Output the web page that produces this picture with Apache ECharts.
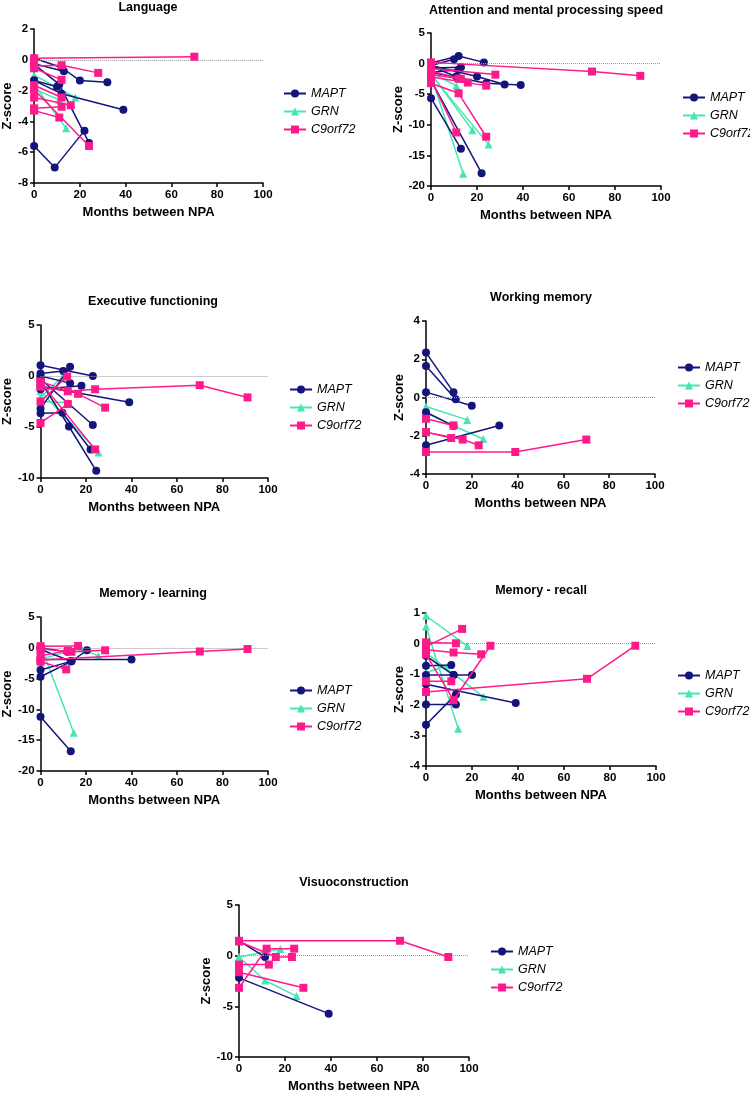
<!DOCTYPE html>
<html><head><meta charset="utf-8">
<script src="https://cdn.jsdelivr.net/npm/echarts@6/dist/echarts.min.js"></script>
<style>html,body{margin:0;padding:0;background:#fff}#c{width:750px;height:1094px}</style>
</head><body><div id="c"></div>
<script>
// ---------- data (each inner array = one participant's trajectory [months, z]) ----------
const genes = ['MAPT', 'GRN', 'C9orf72'];
const panelTitles = ['Language', 'Attention and mental processing speed', 'Executive functioning', 'Working memory', 'Memory - learning', 'Memory - recall', 'Visuoconstruction'];
const xTicks = { min: 0, max: 100, interval: 20 };
const yRanges = [[-8, 2, 2], [-20, 5, 5], [-10, 5, 5], [-4, 4, 2], [-20, 5, 5], [-4, 1, 1], [-10, 5, 5]];

const langMAPT = [[[0,-5.6],[9,-7.0],[22,-4.6]], [[0,0.1],[12,-0.5],[20,-1.35],[32,-1.45]], [[0,-0.25],[13,-0.75]], [[0,-0.3],[11,-1.6],[24,-5.4]], [[0,-1.35],[10,-1.75]], [[0,-1.35],[12,-2.2],[39,-3.25]]];
const langGRN = [[[0,-1.0],[18,-2.45]], [[0,-1.6],[14,-4.45]], [[0,-1.9],[11,-2.6]]];
const langC9 = [[[0,0.1],[70,0.2]], [[0,-0.4],[12,-0.35],[28,-0.85]], [[0,-0.55],[12,-1.3]], [[0,-1.95],[24,-5.6]], [[0,-1.65],[12,-2.45]], [[0,-2.45],[16,-2.95]], [[0,-3.15],[12,-3.05]], [[0,-3.3],[11,-3.75]]];

const attMAPT = [[[0,0.1],[12,1.25],[23,0.2]], [[0,-0.3],[10,0.7]], [[0,-0.7],[13,-0.6]], [[0,-1.4],[12,-1.0]], [[0,-0.5],[11,-2.1]], [[0,-0.3],[20,-2.1],[32,-3.4]], [[0,-1.4],[24,-3.2],[39,-3.5]], [[0,-5.65],[13,-13.9]], [[0,-2.75],[22,-17.9]]];
const attGRN = [[[0,-1.5],[11,-3.6]], [[0,-1.6],[18,-10.9]], [[0,-2.0],[14,-18]], [[0,-1.8],[25,-13.2]]];
const attC9 = [[[0,0.2],[70,-1.3],[91,-2.0]], [[0,-0.8],[28,-1.8]], [[0,-1.8],[12,-2.45],[16,-3.1]], [[0,-2.2],[24,-3.6]], [[0,-3.2],[12,-4.85],[24,-11.95]], [[0,-2.6],[11,-11.25]], [[0,-1.2],[13,-2.5]]];

const execMAPT = [[[0,1.05],[23,0]], [[0,-3.2],[13,0.9]], [[0,0.25],[10,0.5]], [[0,0],[13,-0.7]], [[0,-1.3],[18,-0.95]], [[0,-1.0],[39,-2.57]], [[0,-3.65],[9.6,-3.6],[22,-7.2]], [[0,-0.5],[12.5,-4.95],[24.5,-9.3]], [[0,-0.3],[23,-4.8]]];
const execGRN = [[[0,-2.1],[10,0]], [[0,-1.5],[25.5,-7.5]], [[0,-2.5],[12,-2.6]]];
const execC9 = [[[0,-1.05],[12,-1.5],[24,-1.3],[70,-0.9],[91,-2.1]], [[0,-4.6],[12,-2.75]], [[0,-0.6],[24,-7.2]], [[0,-2.5],[11.7,-0.05]], [[0,-0.55],[16.5,-1.75],[28.4,-3.1]]];

const wmMAPT = [[[0,2.35],[12,0.28]], [[0,1.65],[13,-0.09]], [[0,0.28],[20,-0.43]], [[0,-0.77],[12,-1.48]], [[0,-2.5],[32,-1.46]]];
const wmGRN = [[[0,-0.47],[18,-1.17]], [[0,-0.77],[12,-1.48],[25,-2.17]]];
const wmC9 = [[[0,-1.11],[12,-1.46]], [[0,-1.81],[11,-2.12]], [[0,-1.81],[16,-2.2],[23,-2.5]], [[0,-2.85],[39,-2.85],[70,-2.2]]];

const learnMAPT = [[[0,-1.9],[40,-1.9]], [[0,-4.7],[13.6,-2.2],[20.4,-0.4]], [[0,-0.27],[13.6,-2.2]], [[0,0],[11.7,-0.65]], [[0,-3.6],[13.3,-2.2]], [[0,-11.2],[13.3,-16.8]]];
const learnGRN = [[[0,0.4],[14.6,-13.8]], [[0,-1.8],[18,-0.1],[25.5,-1.35]]];
const learnC9 = [[[0,0.27],[16.5,0.3]], [[0,-0.2],[13.6,-0.65],[28.4,-0.4]], [[0,-2.27],[11.3,-3.5]], [[0,-2.0],[70,-0.6],[91,-0.2]], [[0,-1.3],[12,-0.5]]];

const recMAPT = [[[0,-0.72],[11,-0.7]], [[0,-1.03],[12,-1.03],[20,-1.03]], [[0,-0.4],[12,-1.03]], [[0,-1.33],[39,-1.94]], [[0,-1.99],[13,-1.99]], [[0,-2.65],[13,-1.66]]];
const recGRN = [[[0,0.91],[18,-0.08]], [[0,0.56],[14,-2.78]], [[0,-0.95],[10,-0.7]], [[0,-0.3],[25,-1.74]]];
const recC9 = [[[0,0.04],[13,0.01]], [[0,-0.1],[15.7,0.48]], [[0,-0.2],[12,-0.29],[24,-0.35]], [[0,-0.35],[12,-1.85],[28,-0.07]], [[0,-1.23],[11,-1.23]], [[0,-1.58],[70,-1.15],[91,-0.07]]];

const visMAPT = [[[0,1.47],[11.3,-0.13]], [[0,-2.19],[39,-5.72]]];
const visGRN = [[[0,-0.13],[18,0.65]], [[0,-0.13],[11.3,-2.45],[25,-3.99]]];
const visC9 = [[[0,1.47],[70,1.47],[91,-0.13]], [[0,1.4],[16,-0.13],[23,-0.13]], [[0,-3.17],[12,0.69],[24,0.69]], [[0,-0.88],[13,-0.88]], [[0,-1.63],[28,-3.17]]];

const panelData = [
  [langMAPT, langGRN, langC9], [attMAPT, attGRN, attC9], [execMAPT, execGRN, execC9],
  [wmMAPT, wmGRN, wmC9], [learnMAPT, learnGRN, learnC9], [recMAPT, recGRN, recC9], [visMAPT, visGRN, visC9]
];

// ---------- layout / style ----------
const grids = [
  {left:33, top:29, width:230, height:154},
  {left:431, top:33, width:230, height:153},
  {left:38, top:325, width:230, height:153},
  {left:426, top:321, width:229, height:153},
  {left:38, top:617, width:230, height:154},
  {left:426, top:613, width:230, height:153},
  {left:239, top:905, width:230, height:153}
];
const titlePos = [[148,8],[546,11],[153,302],[541,298],[153,594],[541,591],[354,883]];
const legendPos = [[278,82],[677,86],[284,378],[672,356],[284,679],[672,664],[485,940]];
const colors = {MAPT:'#14147d', GRN:'#45e6b0', C9orf72:'#ff1a8c'};
const symbols = {MAPT:'circle', GRN:'triangle', C9orf72:'rect'};
const symSizes = {MAPT:8, GRN:8, C9orf72:8};
const FONT = 'Liberation Sans, Arial, Helvetica, sans-serif';

const axisCommon = {
  axisLine:{show:true, onZero:false, lineStyle:{color:'#000', width:1.5}},
  axisTick:{show:true, length:4, lineStyle:{color:'#000', width:1.5}},
  axisLabel:{color:'#000', fontWeight:'bold', fontSize:11.5, fontFamily:FONT, margin:6},
  splitLine:{show:false},
  nameLocation:'middle',
  nameTextStyle:{color:'#000', fontWeight:'bold', fontSize:13, fontFamily:FONT}
};

const xAxis = [], yAxis = [], series = [], legend = [], graphic = [];
grids.forEach((g, i) => {
  xAxis.push(Object.assign({type:'value', gridIndex:i, min:xTicks.min, max:xTicks.max, interval:xTicks.interval,
    name:'Months between NPA', nameGap:23}, axisCommon));
  yAxis.push(Object.assign({type:'value', gridIndex:i, min:yRanges[i][0], max:yRanges[i][1], interval:yRanges[i][2],
    name:'Z-score', nameGap:15}, axisCommon));
  graphic.push({type:'text', x:titlePos[i][0], y:titlePos[i][1],
    style:{text:panelTitles[i], fill:'#000', font:'bold 12.5px ' + FONT, textAlign:'center', textVerticalAlign:'middle'}});
  legend.push({orient:'vertical', left:legendPos[i][0], top:legendPos[i][1], itemWidth:22, itemHeight:10, itemGap:5,
    data:genes, selectedMode:false,
    textStyle:{fontStyle:'italic', fontSize:12.5, color:'#000', fontFamily:FONT}});
  // dotted zero reference line
  series.push({type:'line', xAxisIndex:i, yAxisIndex:i, data:[], silent:true, z:1,
    markLine:{silent:true, symbol:['none','none'], label:{show:false},
      lineStyle:{type:'dotted', color:'#999', width:1}, data:[{yAxis:0}]}});
  const zOrder = {MAPT:4, GRN:3, C9orf72:5};
  genes.forEach((gene, gi) => {
    panelData[i][gi].forEach(track => {
      series.push({type:'line', name:gene, xAxisIndex:i, yAxisIndex:i, data:track,
        symbol:symbols[gene], symbolSize:symSizes[gene], z:zOrder[gene],
        itemStyle:{color:colors[gene]}, lineStyle:{color:colors[gene], width:1.5}, animation:false});
    });
  });
});

const chart = echarts.init(document.getElementById('c'), null, {renderer:'canvas'});
chart.setOption({backgroundColor:'#fff', animation:false, grid:grids, xAxis, yAxis, series, legend, graphic});
</script></body></html>
